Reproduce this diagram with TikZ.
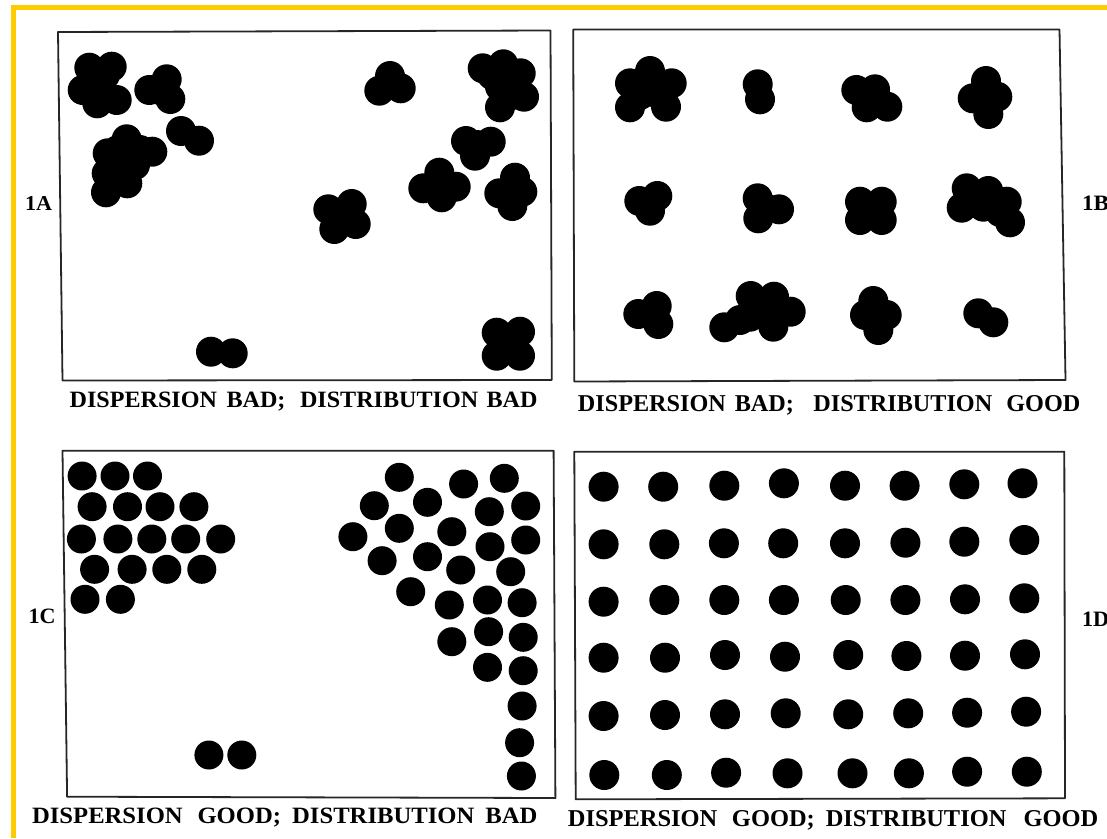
\documentclass[tikz,border=0pt]{standalone}
\usepackage{fontspec}
\setmainfont{Liberation Serif}
\definecolor{frameyellow}{RGB}{255,204,0}
\tikzset{
  panel/.style={draw=black!85, line width=1.8pt, line join=round},
  yframe/.style={draw=frameyellow, line width=4.8pt, line join=miter},
  lbl/.style={anchor=base west, inner sep=0pt, outer sep=0pt},
  particle/.style={fill=black},
}
\newcommand\fitbox[3]{\resizebox{#1}{#2}{\bfseries #3}}
\newcommand\gap[1]{\hspace{#1em}}
\newcommand\particles[2]{\foreach \px/\py in {#2} {\fill[particle] (\px,\py) circle[radius=#1];}}
\begin{document}
\begin{tikzpicture}[x=1pt,y=-1pt]
\useasboundingbox (0,0) rectangle (1107,838);
\fill[white] (0,0) rectangle (1107,838);
% yellow frame (top and left)
\draw[yframe] (13.3,838) -- (13.3,7.5) -- (1107,7.5);
% panel frames
\draw[panel] (58,32) -- (550.5,30.5) -- (551.8,380) -- (62.5,380.5) -- cycle;
\draw[panel] (573.2,29.5) -- (1059.5,29.5) -- (1065.5,380) -- (574.3,381.5) -- cycle;
\draw[panel] (62.5,450.7) -- (553.6,450.7) -- (555.4,798) -- (67.1,796.7) -- cycle;
\draw[panel] (574.3,451.7) -- (1064.3,451.7) -- (1065,798.3) -- (575.7,799.3) -- cycle;
% ---- 1A : dispersion bad, distribution bad (agglomerates)
\particles{15pt}{89.3/67.7, 111.7/66.7, 82.7/90, 97.3/103.3, 116.7/100, 100/83.3, 100/95, 105/75,
  166.7/79.3, 149.3/90, 170.3/99, 160/90,
  181/131, 199/140.7,
  126.7/139.3, 152.3/151.7, 107.7/153.3, 106/192.3, 127.3/183.3, 126.7/160, 106.7/173.3, 123.3/176.7,
  115/165, 135/165, 118/150, 140/150,
  390/76, 379.3/90.7, 400.7/88.3, 390/85,
  482.7/68.3, 503.3/64.3, 520.7/73.3, 524/96.7, 500/107.3, 500/86.7, 510/83.3, 512/95, 492/75,
  466/141, 490.7/141.7, 475/155.7, 477/145,
  439.3/172.7, 423.3/188.3, 455.7/186.7, 441.7/197.3, 440/186,
  515/177.7, 499.3/193.3, 522.3/191.7, 512.3/206, 512/192,
  328.3/209.3, 351.7/204, 334.3/229, 355.7/224, 342/217,
  211/351.7, 232.7/353.3,
  496.7/332.7, 520/331.7, 496.7/355.7, 520/355.7, 508/344}
% ---- 1B : dispersion bad, distribution good
\particles{15pt}{650/71, 630/83.3, 671.7/83.3, 630/107.3, 666/106.7, 648.3/91.7, 640/95, 660/95,
  757.7/84.3, 760/99.3,
  856.3/90, 875/89.3, 866.7/107.3, 887.3/106.7, 870/98,
  986/81, 972.7/98.3, 997.3/96.7, 988.3/114, 986/97,
  639.3/201, 657.3/196, 650/210.7, 649/203,
  757.7/198.3, 758.3/218.3, 779/209.3, 765/208,
  860/201.7, 881.7/201.7, 860/220, 881.7/220, 871/211,
  966.7/188.3, 988.3/191, 1006.7/201.7, 961.7/207.7, 983.3/206.7, 1010/222.3, 985/200, 1000/212,
  656.7/306, 638.3/314, 658.3/324, 652/314,
  724.3/327.3, 750.7/296, 774/296.7, 790.7/311.7, 773.3/326.7, 750/316.7, 766.7/313.3, 740/320, 760/305,
  873.3/301, 865/315, 886.7/315, 878.3/330, 876/315,
  978.3/313.3, 993.3/322.3}
% ---- 1C : dispersion good, distribution bad
\particles{14.5pt}{82.1/476, 115/476, 147.5/476,
  92.1/506.7, 127.5/506.7, 160/506.7, 193.9/506.7,
  81.4/539, 117.9/539, 151.8/539, 185.7/539, 220.7/539,
  94.6/569.3, 132.1/569.3, 166.8/569.3, 201.8/569.3,
  85/599.3, 120.4/599.3,
  208.9/755, 241.8/755,
  399.3/477.3, 463.6/484, 504.3/478.3,
  374.3/505.7, 427.5/502.3, 489.3/511.7, 525.7/506,
  352.9/536.7, 399.3/528.3, 451.8/531.7, 490/546.7, 525.7/540,
  382.1/560.7, 427.5/556.7, 460.7/570, 510.7/571.7,
  410.7/591.7, 449.3/605, 487.5/600, 522.1/602.7,
  451.8/641.7, 488.6/631.7, 523.2/637.3,
  487.5/667.3, 523.2/670.7,
  522.1/706, 519.6/742.7, 521.4/776}
% ---- 1D : dispersion good, distribution good
\particles{15pt}{603.6/486.7, 663.2/486.7, 724.3/485.7, 783.9/483.3, 845/485.7, 904.6/485.7, 964.3/484.3, 1022.5/483.3,
  603.6/544.3, 664.3/544.3, 723.9/543.3, 783.2/543.3, 845/543.3, 905.4/542.7, 964.3/541.7, 1024.3/540,
  603.6/601.7, 664.3/600, 724.3/600, 783.9/600, 845.7/600, 905.4/600, 965/599.3, 1024.3/598.3,
  603.6/657.7, 665/657.7, 725/655, 785/656.7, 848.2/655, 906.4/656, 965/655.7, 1025/654.3,
  603.6/716, 665/715, 725/714.3, 785.7/713.3, 848.2/714.3, 908.2/713.3, 967.1/712.7, 1026.1/711.7,
  604.3/775, 666.8/775, 726.1/772.7, 787.5/773.3, 852.5/773.3, 908.9/773.3, 967.1/771.7, 1026.8/771.7}
% ---- panel labels
\node[lbl] (labA) at (25,210.5) {\fitbox{27pt}{14pt}{1A}};
\node[lbl] (labB) at (1082,210) {\fitbox{27pt}{14.5pt}{1B}};
\node[lbl] (labC) at (28.6,623.3) {\fitbox{27pt}{14.5pt}{1C}};
\node[lbl] (labD) at (1082,626.7) {\fitbox{27pt}{14.5pt}{1D}};
% ---- captions
\node[lbl] (capA) at (69.6,407.3) {\fitbox{468pt}{15.5pt}{DISPERSION\gap{0.4}BAD;\gap{0.6}DISTRIBUTION\gap{0.35}BAD}};
\node[lbl] (capB) at (577.9,411) {\fitbox{502.5pt}{16pt}{DISPERSION\gap{0.37}BAD;\gap{0.8}DISTRIBUTION\gap{0.58}GOOD}};
\node[lbl] (capC) at (32.1,823.5) {\fitbox{505.4pt}{15.5pt}{DISPERSION\gap{0.6}GOOD;\gap{0.45}DISTRIBUTION\gap{0.45}BAD}};
\node[lbl] (capD) at (567.9,826) {\fitbox{530.3pt}{16pt}{DISPERSION\gap{0.6}GOOD;\gap{0.45}DISTRIBUTION\gap{0.7}GOOD}};
\end{tikzpicture}
\end{document}
